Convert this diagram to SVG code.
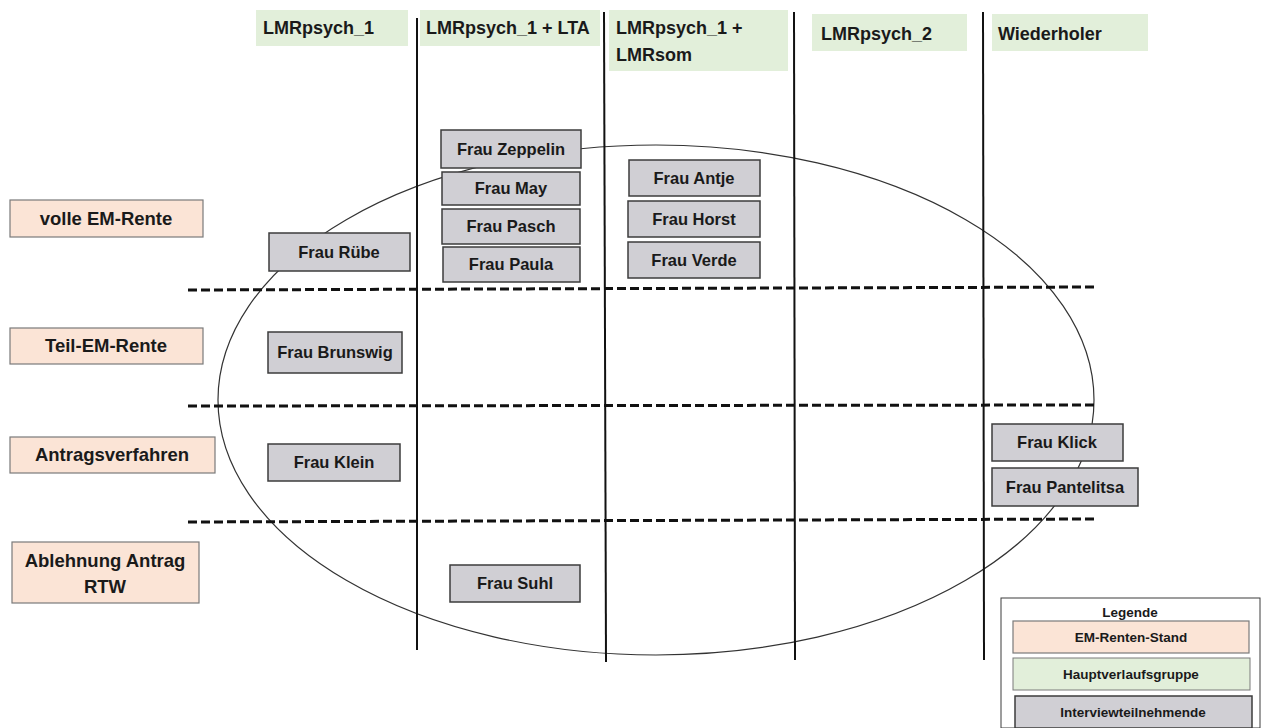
<svg xmlns="http://www.w3.org/2000/svg" width="1264" height="728" viewBox="0 0 1264 728">
  <style>
    text { font-family: "Liberation Sans", Arial, sans-serif; font-weight: bold; fill: #1a1a1a; }
    .grp { fill: #e2efda; stroke: none; }
    .stand { fill: #fbe4d6; stroke: #7a7a7a; stroke-width: 1.2; }
    .person { fill: #d0cfd4; stroke: #3c3c3c; stroke-width: 1.5; }
    .legend { fill: #ffffff; stroke: #3c3c3c; stroke-width: 1; }
    .hdr { font-size: 18px; }
    .lbl { font-size: 18.5px; text-anchor: middle; }
    .name { font-size: 16.5px; text-anchor: middle; }
    .leg { font-size: 13.5px; text-anchor: middle; }
    .col { stroke: #111111; stroke-width: 2; fill: none; }
    .row { stroke: #111111; stroke-width: 3; stroke-dasharray: 9 4; fill: none; }
    .oval { fill: none; stroke: #333333; stroke-width: 1.2; }
  </style>

  <!-- grid: column separators, row separators and the grouping oval -->
  <g id="connectors">
    <ellipse class="oval" cx="656" cy="400" rx="438" ry="255"/>
    <line class="col" x1="417" y1="18" x2="417" y2="650"/>
    <line class="col" x1="604" y1="12" x2="606" y2="662"/>
    <line class="col" x1="794" y1="12" x2="795" y2="660"/>
    <line class="col" x1="983" y1="12" x2="984" y2="660"/>
    <line class="row" x1="188" y1="290" x2="1095" y2="287"/>
    <line class="row" x1="188" y1="406" x2="1095" y2="405"/>
    <line class="row" x1="188" y1="522" x2="1095" y2="519"/>
  </g>

  <!-- column headers -->
  <g id="grp-lmrpsych1">
    <rect class="grp" x="256" y="10" width="152" height="36"/>
    <text class="hdr" x="263" y="34">LMRpsych_1</text>
  </g>
  <g id="grp-lmrpsych1-lta">
    <rect class="grp" x="420" y="10" width="180" height="36"/>
    <text class="hdr" x="426" y="34">LMRpsych_1 + LTA</text>
  </g>
  <g id="grp-lmrpsych1-lmrsom">
    <rect class="grp" x="609" y="10" width="179" height="61"/>
    <text class="hdr" x="616" y="34">LMRpsych_1 +</text>
    <text class="hdr" x="616" y="61">LMRsom</text>
  </g>
  <g id="grp-lmrpsych2">
    <rect class="grp" x="812" y="14" width="155" height="37"/>
    <text class="hdr" x="821" y="40">LMRpsych_2</text>
  </g>
  <g id="grp-wiederholer">
    <rect class="grp" x="992" y="14" width="156" height="37"/>
    <text class="hdr" x="998" y="40">Wiederholer</text>
  </g>

  <!-- row labels -->
  <g id="stand-voll">
    <rect class="stand" x="10" y="200" width="193" height="37"/>
    <text class="lbl" x="106" y="225">volle EM-Rente</text>
  </g>
  <g id="stand-teil">
    <rect class="stand" x="10" y="328" width="193" height="36"/>
    <text class="lbl" x="106" y="352">Teil-EM-Rente</text>
  </g>
  <g id="stand-antrag">
    <rect class="stand" x="10" y="437" width="205" height="36"/>
    <text class="lbl" x="112" y="461">Antragsverfahren</text>
  </g>
  <g id="stand-ablehnung">
    <rect class="stand" x="12" y="542" width="187" height="61"/>
    <text class="lbl" x="105" y="567">Ablehnung Antrag</text>
    <text class="lbl" x="105" y="593">RTW</text>
  </g>

  <!-- participants -->
  <g id="p-ruebe">
    <rect class="person" x="269" y="233" width="141" height="38"/>
    <text class="name" x="339" y="258">Frau Rübe</text>
  </g>
  <g id="p-brunswig">
    <rect class="person" x="268" y="332" width="134" height="41"/>
    <text class="name" x="335" y="358">Frau Brunswig</text>
  </g>
  <g id="p-klein">
    <rect class="person" x="268" y="444" width="132" height="37"/>
    <text class="name" x="334" y="468">Frau Klein</text>
  </g>
  <g id="p-zeppelin">
    <rect class="person" x="441" y="130" width="140" height="38"/>
    <text class="name" x="511" y="155">Frau Zeppelin</text>
  </g>
  <g id="p-may">
    <rect class="person" x="442" y="172" width="138" height="33"/>
    <text class="name" x="511" y="194">Frau May</text>
  </g>
  <g id="p-pasch">
    <rect class="person" x="442" y="209" width="138" height="35"/>
    <text class="name" x="511" y="232">Frau Pasch</text>
  </g>
  <g id="p-paula">
    <rect class="person" x="443" y="247" width="137" height="35"/>
    <text class="name" x="511" y="270">Frau Paula</text>
  </g>
  <g id="p-suhl">
    <rect class="person" x="450" y="565" width="130" height="37"/>
    <text class="name" x="515" y="589">Frau Suhl</text>
  </g>
  <g id="p-antje">
    <rect class="person" x="629" y="160" width="131" height="36"/>
    <text class="name" x="694" y="184">Frau Antje</text>
  </g>
  <g id="p-horst">
    <rect class="person" x="628" y="201" width="132" height="36"/>
    <text class="name" x="694" y="225">Frau Horst</text>
  </g>
  <g id="p-verde">
    <rect class="person" x="628" y="242" width="132" height="36"/>
    <text class="name" x="694" y="266">Frau Verde</text>
  </g>
  <g id="p-klick">
    <rect class="person" x="992" y="424" width="131" height="37"/>
    <text class="name" x="1057" y="448">Frau Klick</text>
  </g>
  <g id="p-pantelitsa">
    <rect class="person" x="992" y="468" width="146" height="38"/>
    <text class="name" x="1065" y="493">Frau Pantelitsa</text>
  </g>

  <!-- legend -->
  <g id="legend">
    <rect class="legend" x="1001" y="598" width="259" height="130"/>
    <text class="leg" x="1130" y="617">Legende</text>
    <rect class="stand" x="1013" y="621" width="236" height="32"/>
    <text class="leg" x="1131" y="642">EM-Renten-Stand</text>
    <rect class="grp" x="1013" y="658" width="237" height="32" style="stroke:#7a7a7a;stroke-width:1"/>
    <text class="leg" x="1131" y="679">Hauptverlaufsgruppe</text>
    <rect class="person" x="1015" y="696" width="237" height="32"/>
    <text class="leg" x="1133" y="717">Interviewteilnehmende</text>
  </g>
</svg>
